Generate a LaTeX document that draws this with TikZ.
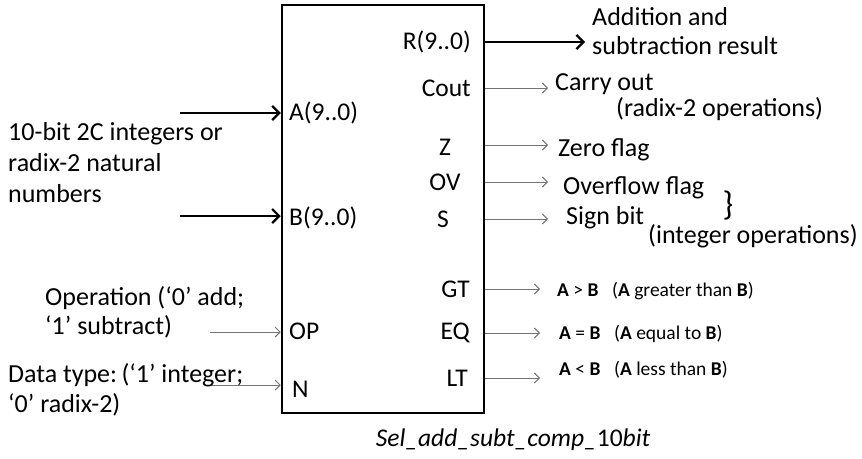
\documentclass[tikz,border=0pt]{standalone}
\usepackage{fontspec}
\setmainfont{Carlito}
\usetikzlibrary{arrows.meta}
\tikzset{
	bus/.style={line width=2.2pt, -{Straight Barb[length=7pt,width=14pt]}},
	sig/.style={line width=0.9pt, draw=black!55, -{Straight Barb[length=5pt,width=10pt]}},
	port/.style={inner sep=0pt, font=\fontsize{25.5}{30}\selectfont},
	desc/.style={inner sep=0pt, align=left, font=\fontsize{26}{30}\selectfont},
	cmp/.style={inner sep=0pt, font=\fontsize{19.5}{22}\selectfont},
}
\begin{document}
\begin{tikzpicture}[x=1pt, y=-1pt]
	\useasboundingbox (0,0) rectangle (862,458);
	% block
	\node[draw, line width=2.5pt, minimum width=202pt, minimum height=408pt, inner sep=0pt](blk) at (383, 209){};
	\node[port, font=\fontsize{25.5}{30}\selectfont\itshape] (name) at (513, 440){Sel\_add\_subt\_comp\_\upshape 10\itshape bit};
	% ports inside the block
	\node[port, anchor=east](pR) at (471, 42){R(9..0)};
	\node[port, anchor=east](pCout) at (471, 88){Cout};
	\node[port](pZ) at (445, 147){Z};
	\node[port](pOV) at (445, 182){OV};
	\node[port](pS) at (443, 219){S};
	\node[port, anchor=east](pGT) at (470, 289){GT};
	\node[port, anchor=east](pEQ) at (470, 333){EQ};
	\node[port, anchor=east](pLT) at (468, 378){LT};
	\node[port, anchor=west](pA) at (289, 113){A(9..0)};
	\node[port, anchor=west](pB) at (289, 218){B(9..0)};
	\node[port, anchor=west](pOP) at (289, 331){OP};
	\node[port, anchor=west](pN) at (292, 389){N};
	% inputs
	\coordinate (aSrc) at (180, 113);
	\coordinate (bSrc) at (180, 216);
	\coordinate (opSrc) at (210, 332);
	\coordinate (nSrc) at (210, 385);
	\draw[bus] (aSrc) -- (aSrc -| blk.west);
	\draw[bus] (bSrc) -- (bSrc -| blk.west);
	\draw[sig] (opSrc) -- (opSrc -| blk.west);
	\draw[sig] (nSrc) -- (nSrc -| blk.west);
	\node[desc, anchor=north west, font=\fontsize{26}{31}\selectfont](dataIn) at (8, 122){10-bit 2C integers or\\radix-2 natural\\numbers};
	\node[desc, anchor=north west, font=\fontsize{26}{29}\selectfont](opIn) at (45, 286){Operation (‘0’ add;\\‘1’ subtract)};
	\node[desc, anchor=north west](nIn) at (8, 363){Data type:\,(‘1’ integer;\\‘0’ radix-2)};
	% outputs
	\coordinate (rEnd) at (585, 42);
	\coordinate (coutEnd) at (548, 88);
	\coordinate (zEnd) at (548, 145);
	\coordinate (ovEnd) at (548, 182);
	\coordinate (sEnd) at (548, 219);
	\coordinate (gtEnd) at (540, 289);
	\coordinate (eqEnd) at (540, 333);
	\coordinate (ltEnd) at (540, 378);
	\draw[bus] (rEnd -| blk.east) -- (rEnd);
	\foreach \o in {cout, z, ov, s, gt, eq, lt}
		\draw[sig] (\o End -| blk.east) -- (\o End);
	\node[desc, anchor=north west, font=\fontsize{26}{29}\selectfont](rOut) at (592, 7){Addition and\\subtraction result};
	\node[desc, anchor=west](coutOut) at (555, 84){Carry out};
	\node[desc, anchor=west](coutNote) at (616, 109){(radix-2 operations)};
	\node[desc, anchor=west](zOut) at (558, 150){Zero flag};
	\node[desc, anchor=west](ovOut) at (563, 188){Overflow flag};
	\node[desc, anchor=west](sOut) at (566, 218){Sign bit};
	\node[desc, font=\fontsize{34}{34}\selectfont](brace) at (728, 206){\}};
	\node[desc, anchor=west](intNote) at (648, 236){(integer operations)};
	\node[cmp, anchor=west](gtOut) at (557, 291){\textbf{A} > \textbf{B}\hspace{0.7em}(\textbf{A} greater than \textbf{B})};
	\node[cmp, anchor=west](eqOut) at (559, 334){\textbf{A} = \textbf{B}\hspace{0.7em}(\textbf{A} equal to \textbf{B})};
	\node[cmp, anchor=west](ltOut) at (559, 370){\textbf{A} < \textbf{B}\hspace{0.7em}(\textbf{A} less than \textbf{B})};
\end{tikzpicture}
\end{document}
